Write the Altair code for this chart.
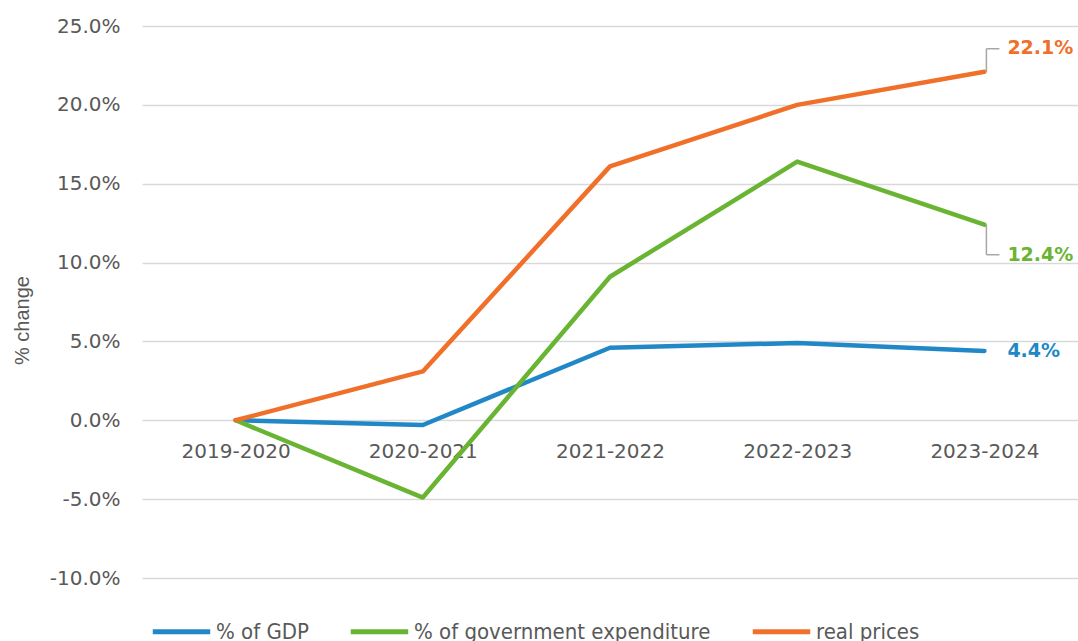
import altair as alt
import pandas as pd

periods = ["2019-2020", "2020-2021", "2021-2022", "2022-2023", "2023-2024"]
gdp = [0.0, -0.3, 4.6, 4.9, 4.4]
gov = [0.0, -4.9, 9.1, 16.4, 12.4]
real = [0.0, 3.1, 16.1, 20.0, 22.1]
series_names = ["% of GDP", "% of government expenditure", "real prices"]
colors = ["#2088C6", "#6AB433", "#F0702A"]

rows = []
for name, vals in zip(series_names, [gdp, gov, real]):
    for i, (p, v) in enumerate(zip(periods, vals)):
        rows.append({"period": p, "value": v, "series": name, "order": i})
df = pd.DataFrame(rows)

last = df[df["period"] == periods[-1]]

pct_expr = "(datum.value < 0 ? '-' : '') + format(abs(datum.value), '.1f') + '%'"

x_enc = alt.X("period:N", sort=periods,
              scale=alt.Scale(type="point", padding=0.5),
              axis=alt.Axis(title=None, domain=False, ticks=False, grid=False,
                            offset=-157, labelPadding=20, labelFontSize=20,
                            labelFont="DejaVu Sans", labelColor="#595959",
                            labelAngle=0))
y_scale = alt.Scale(domain=[-10, 25], nice=False, zero=False)

lines = alt.Chart(df).mark_line(strokeWidth=4.5, strokeCap="round", strokeJoin="round").encode(
    x=x_enc,
    y=alt.Y("value:Q", scale=y_scale,
            axis=alt.Axis(title="% change", values=[-10, -5, 0, 5, 10, 15, 20, 25],
                          labelExpr=pct_expr,
                          domain=False, ticks=False, grid=True, gridColor="#D9D9D9",
                          gridWidth=1.3, labelPadding=22, labelFontSize=20,
                          labelFont="DejaVu Sans", labelColor="#595959",
                          titleFont="Liberation Sans", titleFontSize=20,
                          titleFontWeight="normal", titleColor="#595959",
                          titleAngle=-90, titleX=-120, titleY=294,
                          titleAlign="center", titleBaseline="middle")),
    color=alt.Color("series:N", sort=series_names,
                    scale=alt.Scale(domain=series_names, range=colors),
                    legend=alt.Legend(title=None, orient="none", direction="horizontal",
                                      legendX=8, legendY=574,
                                      symbolType="stroke", symbolStrokeWidth=5,
                                      symbolSize=3300, labelFontSize=22,
                                      labelFont="Liberation Sans Narrow, DejaVu Sans Condensed, sans-serif",
                                      labelColor="#595959", labelOffset=3,
                                      columnPadding=31, labelLimit=400)),
    order="order:Q",
)

layers = [lines]
label_specs = [
    ("% of GDP", 0, None),
    ("% of government expenditure", 30, 30),
    ("real prices", -24, -23),
]
xs = alt.X("period:N", sort=periods)
ys = alt.Y("value:Q", scale=y_scale)
for name, dy, lead in label_specs:
    sub = last[last["series"] == name]
    col = colors[series_names.index(name)]
    if lead is not None:
        layers.append(alt.Chart(sub).mark_rule(color="#A6A6A6", strokeWidth=1.5,
                                               xOffset=2, x2Offset=2, y2Offset=lead).encode(
            x=xs, x2="period:N", y=ys, y2="value:Q"))
        layers.append(alt.Chart(sub).mark_rule(color="#A6A6A6", strokeWidth=1.5,
                                               xOffset=2, x2Offset=15, yOffset=lead, y2Offset=lead).encode(
            x=xs, x2="period:N", y=ys, y2="value:Q"))
    layers.append(alt.Chart(sub).mark_text(align="left", baseline="middle", dx=23, dy=dy,
                                           font="DejaVu Sans", fontWeight="bold",
                                           fontSize=19, color=col).encode(
        x=xs, y=ys, text=alt.Text("label:N")).transform_calculate(
        label="format(datum.value, '.1f') + '%'"))

chart = alt.layer(*layers).properties(
    width=936, height=552,
    background="white",
    autosize=alt.AutoSizeParams(type="none"),
    padding={"left": 142, "top": 26, "right": 0, "bottom": 63},
).configure_view(strokeWidth=0).configure_axis(domain=False, ticks=False)

chart.save("out.html", embed_options={"renderer": "svg", "actions": False})
